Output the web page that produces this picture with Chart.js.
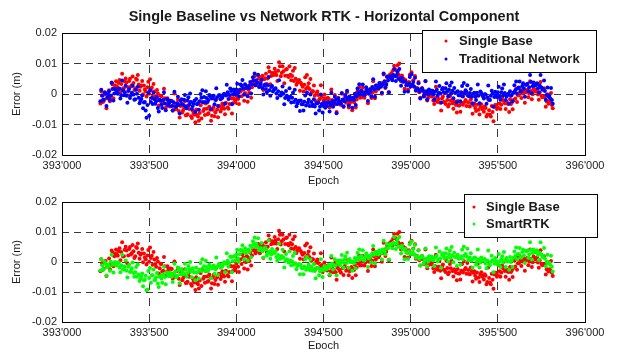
<!DOCTYPE html>
<html>
<head>
<meta charset="utf-8">
<script src="https://cdn.jsdelivr.net/npm/chart.js@4/dist/chart.umd.min.js"></script>
<style>
  html, body { margin: 0; padding: 0; background: #fff; overflow: hidden; }
  body { width: 618px; height: 349px; position: relative; }
  .plot { position: absolute; left: 0; width: 618px; }
  #topWrap { top: 0; height: 192px; }
  #bottomWrap { top: 170px; height: 190px; }
</style>
</head>
<body>
<div class="plot" id="topWrap"><canvas id="topChart" width="618" height="192"></canvas></div>
<div class="plot" id="bottomWrap"><canvas id="bottomChart" width="618" height="190"></canvas></div>
<script>
// two interleaved passes of epochs (every 10 s, second pass shifted 5 s), errors in mm
const EPOCH_START = 393220;
const EPOCH_STEP = 10;
const PASS_B_SHIFT = 5;

const singleBaseA = [
  -3.1, -0.4, -2.2, 0.3, -1.5,   1.2, -0.8, 3.1, 1.9, 4.2,   2.1, 4.6, 3.3, 1.8, 4.1,
  3.8, 2.2, 5.0, 2.9, 3.6,   1.9, 4.7, 3.1, 2.4, 4.3,   2.8, 0.9, 2.2, 0.1, 1.3,
  -0.9, 0.8, -1.6, 0.2, -2.1,   -0.7, -2.9, -1.4, -3.3, -2.2,   -4.1, -2.3, -3.8, -5.0, -3.0,
  -5.6, -3.9, -6.1, -4.5, -7.0,   -6.6, -4.9, -7.3, -5.5, -6.8,   -5.1, -7.4, -6.2, -8.0, -5.6,
  -6.9, -4.8, -6.3, -5.2, -7.1,   -4.3, -6.0, -5.1, -3.9, -5.7,   -3.1, -4.8, -2.9, -4.4, -3.3,
  -1.4, -3.0, -1.9, -0.6, -1.6,   0.8, -0.7, 1.5, 0.3, 2.0,   1.4, 3.1, 2.2, 3.8, 2.9,
  3.6, 5.2, 4.1, 6.0, 4.8,   6.6, 5.1, 7.4, 5.9, 6.8,   8.3, 6.2, 7.6, 9.1, 6.9,
  7.5, 6.0, 8.2, 5.6, 6.3,   5.9, 4.3, 5.0, 3.8, 4.6,   3.7, 2.4, 3.0, 1.7, 2.3,
  1.6, 0.4, 0.9, -0.5, 0.2,   -0.3, -1.5, -1.0, -2.2, -1.4,   -2.8, -1.6, -3.1, -2.0, -2.7,
  -3.4, -1.9, -2.5, -3.6, -2.1,   -1.6, -2.9, -2.0, -3.1, -1.7,   -2.3, -0.9, -1.8, -0.5, -1.2,
  -1.1, 0.3, -0.2, 0.9, 0.1,   1.7, 0.4, 1.9, 0.8, 2.4,   2.1, 3.6, 3.0, 4.2, 3.4,
  5.7, 6.3, 6.9, 7.8, 8.1,   7.6, 6.4, 5.8, 6.1, 4.9,   4.6, 3.2, 3.9, 2.6, 3.0,
  2.5, 1.1, 1.8, 0.6, 1.4,   0.9, -0.6, 0.1, -1.2, -0.4,   -0.8, -2.1, -1.3, -2.4, -1.6,
  -2.9, -1.5, -2.6, -3.3, -2.0,   -3.4, -2.1, -3.0, -2.4, -3.6,   -2.3, -3.8, -2.9, -3.5, -2.6,
  -3.9, -2.7, -4.1, -3.0, -3.6,   -4.6, -3.5, -5.2, -4.1, -4.9,   -5.8, -4.6, -6.7, -5.3, -7.4,
  -5.9, -4.2, -3.6, -4.4, -3.1,   -3.5, -2.2, -3.0, -2.5, -3.3,   -1.7, -2.8, -2.0, -1.5, -2.6,
  -0.4, 0.6, 0.2, 1.1, 0.5,   1.4, 0.2, 1.0, -0.1, 1.3,   0.9, -0.2, 0.6, -0.6, -0.9,
  -1.0, -2.4, -3.2, -2.7, -3.6
];
const singleBaseB = [
  0.9, -2.6, -0.2, -4.7, -1.1,   -2.4, 3.8, -1.4, 2.8, 2.4,   3.6, 0.6, 6.6, 1.9, 5.1,
  -0.4, 4.3, 2.5, 5.7, 1.3,   5.0, 6.2, 1.1, 2.8, -0.1,   1.5, -0.8, 4.0, 4.8, 2.1,
  3.3, -0.7, 1.3, -3.8, -0.6,   -3.2, 1.7, -4.5, -1.4, -2.7,   -2.2, -5.5, 0.2, -4.8, -1.9,
  -7.7, -3.3, -5.3, -2.4, -7.0,   -3.8, -2.7, -7.9, -6.3, -9.3,   -6.9, -8.8, -3.7, -2.6, -4.9,
  -3.1, -6.6, -4.2, -8.8, -5.2,   -7.3, -1.9, -7.6, -4.0, -4.8,   -3.8, -6.6, -0.3, -4.8, -1.3,
  -6.4, -1.4, -2.8, 0.8, -3.3,   0.8, 2.5, -2.2, -0.1, -2.5,   0.3, -1.2, 4.3, 5.8, 3.9,
  6.1, 2.9, 5.6, 1.3, 5.2,   3.3, 8.8, 3.2, 6.9, 6.2,   7.2, 4.3, 10.4, 5.8, 9.1,
  3.5, 8.0, 6.0, 9.1, 4.5,   7.6, 8.5, 3.0, 4.4, 1.1,   3.1, 0.8, 5.5, 6.2, 3.5,
  4.9, 0.9, 2.8, -2.3, 0.8,   -1.9, 2.9, -3.3, -0.2, -1.6,   -1.2, -4.4, 1.5, -3.4, -0.3,
  -5.9, -1.2, -3.1, 0.1, -4.3,   -0.7, 0.6, -4.4, -2.5, -5.3,   -2.7, -4.4, 0.9, 2.2, 0.1,
  2.1, -1.2, 1.4, -3.0, 0.8,   -1.3, 4.2, -1.4, 2.3, 1.6,   2.8, 0.1, 6.4, 2.0, 5.5,
  0.6, 6.2, 5.3, 9.3, 5.8,   9.4, 10.0, 4.2, 5.2, 1.7,   3.7, 1.5, 6.3, 7.1, 4.5,
  5.9, 2.0, 3.9, -1.2, 2.0,   -0.7, 4.2, -2.1, 1.0, -0.4,   0.0, -3.3, 2.4, -2.6, 0.3,
  -5.4, -0.8, -2.7, 0.4, -4.1,   -0.7, 0.4, -4.8, -3.1, -6.1,   -3.8, -5.8, -0.7, 0.4, -2.0,
  -0.3, -4.0, -1.8, -6.5, -3.1,   -5.6, -0.6, -6.7, -3.4, -4.6,   -4.1, -7.4, -1.8, -6.8, -3.9,
  -8.9, -3.6, -4.9, -1.1, -4.9,   -1.2, 0.1, -4.9, -3.1, -5.9,   -3.3, -5.0, 0.4, 1.7, -0.4,
  1.9, -1.3, 1.4, -2.9, 1.0,   -1.1, 4.2, -1.7, 1.8, 0.8,   1.4, -1.9, 3.9, -1.1, 1.9,
  -4.2, -0.1, -2.4, 0.3, -4.7
];

const traditionalNetworkA = [
  -2.4, -0.6, -1.8, 0.2, -1.1,   0.9, -0.5, 1.6, 0.2, 1.3,   0.1, 1.7, -0.4, 1.2, 0.6,
  -0.6, 1.0, -1.3, 0.4, -0.2,   -1.7, 0.1, -1.2, -2.3, -0.5,   -2.8, -5.4, -3.6, -7.1, -2.6,
  -3.3, -1.7, -2.4, -4.6, -1.9,   -3.5, -2.0, -3.1, -1.6, -3.8,   -2.2, -3.9, -2.7, -4.2, -3.1,
  -3.6, -2.3, -3.4, -1.9, -4.0,   -2.1, -3.5, -2.6, -3.9, -2.2,   -1.6, -3.0, -2.4, -1.2, -2.8,
  -2.6, -1.3, -2.0, -0.7, -1.5,   -0.6, -2.0, -1.1, -0.4, -1.7,   -1.2, 0.1, -0.5, 0.6, -0.3,
  1.0, -0.2, 0.7, 1.5, 0.3,   1.4, 2.7, 1.9, 3.2, 2.4,   2.6, 3.9, 3.1, 4.4, 2.9,
  3.7, 2.3, 3.4, 1.9, 2.8,   1.6, 2.9, 1.2, 2.3, 0.8,   1.6, 0.2, 0.9, -0.4, 0.5,
  0.1, -1.3, -0.6, -1.9, -0.9,   -1.2, -2.6, -1.9, -3.1, -2.2,   -2.1, -3.4, -2.5, -3.8, -2.9,
  -3.9, -2.6, -3.5, -4.1, -3.0,   -2.8, -4.2, -3.3, -3.9, -4.5,   -3.9, -2.7, -3.6, -2.4, -3.1,
  -2.0, -3.3, -2.4, -3.0, -1.8,   -2.4, -1.1, -1.9, -0.8, -1.5,   -1.2, 0.1, -0.7, 0.5, -0.2,
  1.0, -0.3, 0.6, 1.3, 0.2,   1.0, 2.3, 1.5, 2.8, 1.9,   3.6, 2.4, 3.3, 4.1, 3.0,
  4.4, 5.5, 5.1, 6.3, 5.8,   6.2, 5.0, 4.7, 5.3, 4.1,   4.1, 2.9, 3.4, 2.5, 3.0,
  2.4, 1.2, 1.7, 0.8, 1.4,   1.3, 0.2, 0.9, -0.1, 0.6,   1.1, -0.2, 0.7, 1.4, 0.3,
  0.2, 1.5, 0.6, 1.9, 0.9,   1.4, 0.1, 1.1, 2.0, 0.5,   0.9, -0.4, 0.6, -0.8, 0.2,
  0.7, -0.6, 0.3, -0.9, 0.1,   -0.9, 0.4, -0.5, 0.8, -0.2,   -1.5, -0.2, -1.1, -2.0, -0.6,
  0.2, -1.0, -0.3, 0.6, -0.7,   0.6, -0.5, 0.3, -0.8, 0.1,   0.9, -0.3, 0.5, 1.2, 0.2,
  2.1, 0.9, 2.6, 1.8, 3.0,   3.4, 2.2, 3.9, 2.6, 3.1,   3.2, 1.9, 2.8, 2.1, 1.6,
  1.0, -0.3, -0.8, -1.4, -2.0
];
const traditionalNetworkB = [
  1.4, -2.0, 0.6, -3.9, -0.1,   -1.9, 3.6, -2.1, 1.6, 0.8,   1.6, -1.5, 4.4, -0.4, 2.7,
  -2.9, 1.6, -0.4, 2.7, -1.9,   1.4, 2.4, -3.0, -1.6, -4.7,   -2.6, -7.8, 0.3, 1.2, -1.3,
  0.4, -3.2, -1.0, -5.7, -2.2,   -4.6, 0.6, -5.3, -1.9, -2.9,   -2.3, -5.3, 0.7, -4.1, -0.9,
  -6.4, -1.7, -3.5, -0.3, -4.7,   -1.1, 0.2, -4.9, -3.1, -5.9,   -3.4, -5.2, 0.0, 1.2, -1.0,
  0.9, -2.6, -0.3, -4.9, -1.3,   -3.4, 1.9, -3.9, -0.4, -1.3,   -0.3, -3.2, 3.0, -1.6, 1.8,
  -3.4, 1.5, -0.1, 3.4, -0.8,   3.1, 4.6, -0.2, 1.9, -0.7,   2.0, 0.2, 5.5, 6.7, 4.5,
  6.3, 2.5, 4.7, -0.2, 3.1,   0.6, 5.6, -0.6, 2.6, 1.4,   1.9, -1.3, 4.5, -0.5, 2.5,
  -3.4, 1.0, -1.1, 1.9, -2.8,   0.4, 1.4, -4.0, -2.5, -5.6,   -3.4, -5.4, -0.5, 0.5, -1.9,
  -0.2, -3.9, -1.7, -6.4, -3.0,   -5.4, -0.2, -6.1, -2.7, -3.7,   -2.8, -5.7, 0.4, -4.2, -0.9,
  -6.3, -1.5, -3.1, 0.3, -4.0,   -0.3, 1.1, -3.8, -1.8, -4.5,   -1.9, -3.6, 1.8, 3.2, 1.1,
  3.1, -0.3, 2.2, -2.3, 1.4,   -0.7, 4.8, -0.9, 2.8, 2.0,   3.1, 0.4, 6.7, 2.2, 5.7,
  0.6, 5.8, 4.5, 8.2, 4.3,   7.4, 8.2, 2.7, 4.0, 0.7,   2.9, 0.8, 5.6, 6.5, 3.9,
  5.3, 1.5, 3.5, -1.5, 1.8,   -0.8, 4.3, -1.8, 1.5, 0.4,   1.1, -1.9, 4.1, -0.6, 2.6,
  -2.8, 2.0, 0.3, 3.5, -0.8,   2.7, 3.8, -1.4, 0.3, -2.7,   -0.4, -2.4, 2.6, 3.6, 1.2,
  2.9, -0.7, 1.6, -3.1, 0.4,   -2.0, 3.1, -3.0, 0.3, -0.8,   -0.1, -3.2, 2.8, -2.0, 1.1,
  -4.2, 0.7, -1.0, 2.4, -1.9,   1.8, 3.1, -2.0, -0.3, -3.1,   -0.6, -2.4, 2.9, 4.1, 1.9,
  4.1, 0.9, 3.5, -0.9, 3.0,   0.9, 6.2, 0.3, 3.8, 2.8,   3.5, 0.4, 6.2, 1.4, 4.4,
  -1.9, 2.1, -0.5, 2.0, -3.2
];

const smartRTKA = [
  -2.8, -1.1, -2.3, -0.6, -1.7,   -1.5, 0.1, -0.9, -0.3, -1.2,   -0.4, -1.8, -1.1, -2.4, -1.5,
  -2.9, -1.6, -3.3, -2.1, -3.7,   -3.4, -4.9, -4.2, -5.6, -3.8,   -6.1, -4.6, -9.2, -5.3, -6.9,
  -4.4, -6.0, -5.1, -7.2, -4.8,   -5.5, -4.1, -5.0, -3.6, -4.7,   -3.5, -4.9, -4.0, -3.2, -4.6,
  -2.8, -4.2, -3.3, -3.9, -2.6,   -3.7, -2.3, -3.2, -2.1, -3.5,   -1.9, -3.3, -2.5, -3.0, -1.8,
  -3.0, -1.7, -2.6, -1.4, -2.2,   -1.2, -2.4, -1.5, -0.7, -1.9,   -1.4, -0.1, -0.6, 0.4, -0.3,
  1.7, 0.3, 1.9, 2.5, 1.2,   2.6, 3.9, 3.4, 4.6, 3.8,   4.1, 5.4, 4.8, 6.0, 5.1,
  5.2, 3.9, 4.7, 3.6, 4.3,   4.2, 2.9, 3.5, 2.5, 3.2,   3.0, 1.7, 2.3, 1.2, 2.0,
  1.5, 0.3, 0.9, -0.2, 0.5,   0.2, -0.9, -0.4, -1.3, -0.7,   -0.9, -2.1, -1.5, -2.6, -1.8,
  -2.7, -1.6, -2.4, -3.0, -2.0,   -1.8, -3.1, -2.3, -2.8, -1.9,   -2.2, -1.0, -1.5, -0.6, -1.2,
  -1.1, 0.1, -0.5, 0.5, -0.2,   0.8, -0.4, 0.3, 1.0, 0.1,   0.2, 1.3, 0.6, 1.6, 0.8,
  1.9, 0.7, 1.5, 2.2, 1.2,   1.8, 2.9, 2.4, 3.3, 2.6,   3.9, 2.9, 4.2, 3.5, 4.6,
  4.6, 5.5, 5.9, 6.4, 6.0,   6.3, 5.2, 4.9, 5.4, 4.3,   4.3, 3.1, 3.6, 2.7, 3.2,
  2.6, 1.4, 1.9, 1.0, 1.6,   1.5, 0.4, 1.1, 0.2, 1.3,   1.8, 0.6, 1.4, 2.1, 0.9,
  1.2, 2.4, 1.8, 2.9, 1.5,   2.6, 1.4, 2.2, 3.1, 1.7,   2.4, 1.2, 1.9, 0.9, 2.2,
  1.9, 0.7, 1.5, 0.4, 1.1,   1.4, 0.2, 0.9, -0.2, 0.6,   0.8, -0.5, 0.4, -0.9, 0.1,
  0.6, -0.6, 0.3, -0.8, 0.2,   1.0, -0.2, 0.6, 1.3, 0.3,   1.7, 0.6, 1.4, 2.0, 0.9,
  2.6, 1.5, 3.3, 2.2, 3.7,   3.8, 2.6, 4.1, 3.0, 3.5,   3.6, 2.3, 3.1, 2.5, 2.0,
  1.2, 0.2, -0.4, -0.9, -1.6
];
const smartRTKB = [
  0.9, -2.5, 0.0, -4.5, -0.8,   -2.9, 2.4, -3.5, 0.0, -0.9,   -0.2, -3.4, 2.4, -2.5, 0.5,
  -5.2, -0.9, -3.0, -0.2, -4.9,   -1.7, -0.8, -6.3, -4.9, -8.1,   -5.9, -9.4, -3.0, -2.0, -4.4,
  -2.5, -6.0, -3.7, -8.3, -4.7,   -6.9, -1.6, -7.4, -3.8, -4.7,   -3.8, -6.7, -0.6, -5.1, -1.8,
  -7.1, -2.3, -4.0, -0.6, -4.9,   -1.3, 0.0, -5.1, -3.3, -6.1,   -3.6, -5.5, -0.3, 0.9, -1.4,
  0.4, -3.1, -0.8, -5.4, -1.8,   -3.9, 1.5, -4.3, -0.8, -1.6,   -0.6, -3.4, 2.9, -1.6, 1.8,
  -3.4, 1.8, 0.4, 4.1, 0.1,   4.0, 5.6, 0.9, 3.0, 0.5,   3.3, 1.6, 6.9, 8.2, 6.1,
  7.9, 4.2, 6.3, 1.5, 4.8,   2.2, 7.2, 1.1, 4.3, 3.1,   3.6, 0.4, 6.1, 1.2, 4.1,
  -1.8, 2.7, 0.6, 3.6, -1.1,   2.0, 3.0, -2.4, -1.0, -4.1,   -2.0, -4.1, 0.8, 1.7, -0.8,
  0.8, -2.9, -0.7, -5.4, -2.0,   -4.4, 0.9, -5.0, -1.5, -2.4,   -1.4, -4.2, 2.0, -2.5, 0.9,
  -4.4, 0.5, -1.1, 2.3, -1.9,   1.8, 3.1, -1.9, -0.1, -2.9,   -0.4, -2.2, 3.0, 4.2, 2.0,
  3.9, 0.5, 2.9, -1.7, 2.0,   -0.1, 5.3, -0.4, 3.3, 2.5,   3.6, 0.8, 7.1, 2.6, 6.0,
  0.8, 6.0, 4.6, 8.3, 4.3,   7.4, 8.3, 2.8, 4.2, 0.9,   3.1, 1.0, 5.9, 6.8, 4.3,
  5.7, 1.8, 3.8, -1.2, 2.0,   -0.6, 4.5, -1.5, 1.9, 0.8,   1.6, -1.3, 4.8, 0.2, 3.5,
  -1.9, 2.9, 1.2, 4.5, 0.2,   3.8, 5.0, -0.1, 1.6, -1.3,   1.1, -0.9, 4.1, 5.1, 2.7,
  4.4, 0.7, 2.9, -1.9, 1.5,   -0.9, 4.2, -1.8, 1.5, 0.4,   1.0, -2.1, 3.8, -1.0, 2.1,
  -3.4, 1.3, -0.5, 2.7, -1.7,   1.9, 3.3, -1.7, 0.2, -2.6,   0.0, -1.7, 3.5, 4.8, 2.7,
  4.7, 1.5, 4.1, -0.3, 3.6,   1.4, 6.6, 0.8, 4.2, 3.2,   3.9, 0.7, 6.6, 1.7, 4.7,
  -1.4, 2.4, -0.3, 2.1, -3.2
];

const X_MIN = 393000, X_MAX = 396000, X_STEP = 500;
const Y_MIN = -0.02, Y_MAX = 0.02, Y_STEP = 0.01;

const FONT = '"Liberation Sans", Arial, sans-serif';
const TEXT = '#1a1a1a';

function toPoints(vals, shift) {
  return vals.map((v, i) => ({ x: EPOCH_START + shift + i * EPOCH_STEP, y: v / 1000 }));
}

function fmtEpoch(v) {
  const s = String(Math.round(v));
  return s.slice(0, s.length - 3) + "'" + s.slice(-3);
}

function series(label, passA, passB, color, order) {
  return {
    label,
    data: toPoints(passA, 0).concat(toPoints(passB, PASS_B_SHIFT)),
    backgroundColor: color,
    pointRadius: 2,
    pointBorderWidth: 0,
    pointHoverRadius: 2,
    showLine: false,
    order
  };
}

// MATLAB-style box, title and boxed legend
const boxPlugin = {
  id: 'boxLegend',
  afterDraw(chart, args, opts) {
    const { ctx, chartArea: a } = chart;
    ctx.save();
    ctx.strokeStyle = '#000';
    ctx.lineWidth = 1;
    ctx.strokeRect(Math.round(a.left) + 0.5, Math.round(a.top) + 0.5,
      Math.round(a.right - a.left), Math.round(a.bottom - a.top));

    if (opts.title) {
      ctx.fillStyle = TEXT;
      ctx.font = 'bold 14.5px ' + FONT;
      ctx.textAlign = 'center';
      ctx.textBaseline = 'middle';
      ctx.fillText(opts.title, 324, 17);
    }

    const b = opts.box;
    ctx.fillStyle = '#fff';
    ctx.fillRect(b.x, b.y, b.w, b.h);
    ctx.strokeRect(b.x + 0.5, b.y + 0.5, b.w, b.h);
    ctx.font = 'bold 13px ' + FONT;
    ctx.textBaseline = 'middle';
    ctx.textAlign = 'left';
    chart.data.datasets.forEach((ds, i) => {
      const y = b.y + b.firstRow + i * b.rowGap;
      ctx.fillStyle = ds.backgroundColor;
      ctx.beginPath();
      ctx.arc(b.x + b.markerX, y, 1.5, 0, Math.PI * 2);
      ctx.fill();
      ctx.fillStyle = TEXT;
      ctx.fillText(ds.label, b.x + b.textX, y);
    });
    ctx.restore();
  }
};

function makeChart(id, datasets, cfg) {
  return new Chart(document.getElementById(id), {
    type: 'scatter',
    data: { datasets },
    plugins: [boxPlugin],
    options: {
      responsive: false,
      animation: false,
      events: [],
      layout: { padding: { left: 0, right: 33, top: cfg.padTop, bottom: 0 } },
      plugins: {
        legend: { display: false },
        tooltip: { enabled: false },
        title: { display: false },
        boxLegend: { box: cfg.legend, title: cfg.title }
      },
      scales: {
        x: {
          type: 'linear',
          min: X_MIN,
          max: X_MAX,
          afterFit: s => { s.height = cfg.xAxisHeight; },
          ticks: {
            stepSize: X_STEP,
            color: TEXT,
            padding: 4,
            maxRotation: 0,
            autoSkip: false,
            font: { family: FONT, size: 11 },
            callback: v => fmtEpoch(v)
          },
          grid: { color: '#3a3a3a', lineWidth: 1, drawTicks: false },
          border: { display: false, dash: [8, 8] },
          title: {
            display: true,
            text: 'Epoch',
            color: TEXT,
            font: { family: FONT, size: 11 },
            padding: { top: 0, bottom: cfg.epochPad }
          }
        },
        y: {
          min: Y_MIN,
          max: Y_MAX,
          afterFit: s => { s.width = 62; },
          ticks: {
            stepSize: Y_STEP,
            color: TEXT,
            padding: 5,
            font: { family: FONT, size: 11 },
            callback: v => String(Math.round(v * 100) / 100)
          },
          grid: { color: '#3a3a3a', lineWidth: 1, drawTicks: false },
          border: { display: false, dash: [7, 5] },
          title: {
            display: true,
            text: 'Error (m)',
            color: TEXT,
            font: { family: FONT, size: 11 },
            padding: { top: 10, bottom: 0 }
          }
        }
      }
    }
  });
}

makeChart('topChart', [
  series('Single Base', singleBaseA, singleBaseB, '#ff0000', 2),
  series('Traditional Network', traditionalNetworkA, traditionalNetworkB, '#0000ff', 1)
], {
  title: 'Single Baseline vs Network RTK - Horizontal Component',
  padTop: 33,
  xAxisHeight: 37,
  epochPad: 4,
  legend: { x: 422, y: 30, w: 174, h: 42, markerX: 24, textX: 37, firstRow: 11, rowGap: 18 }
});

makeChart('bottomChart', [
  series('Single Base', singleBaseA, singleBaseB, '#ff0000', 2),
  series('SmartRTK', smartRTKA, smartRTKB, '#00ff00', 1)
], {
  title: null,
  padTop: 32,
  xAxisHeight: 38,
  epochPad: 7,
  legend: { x: 464, y: 24, w: 133, h: 43, markerX: 10, textX: 22, firstRow: 13, rowGap: 17 }
});
</script>
</body>
</html>
